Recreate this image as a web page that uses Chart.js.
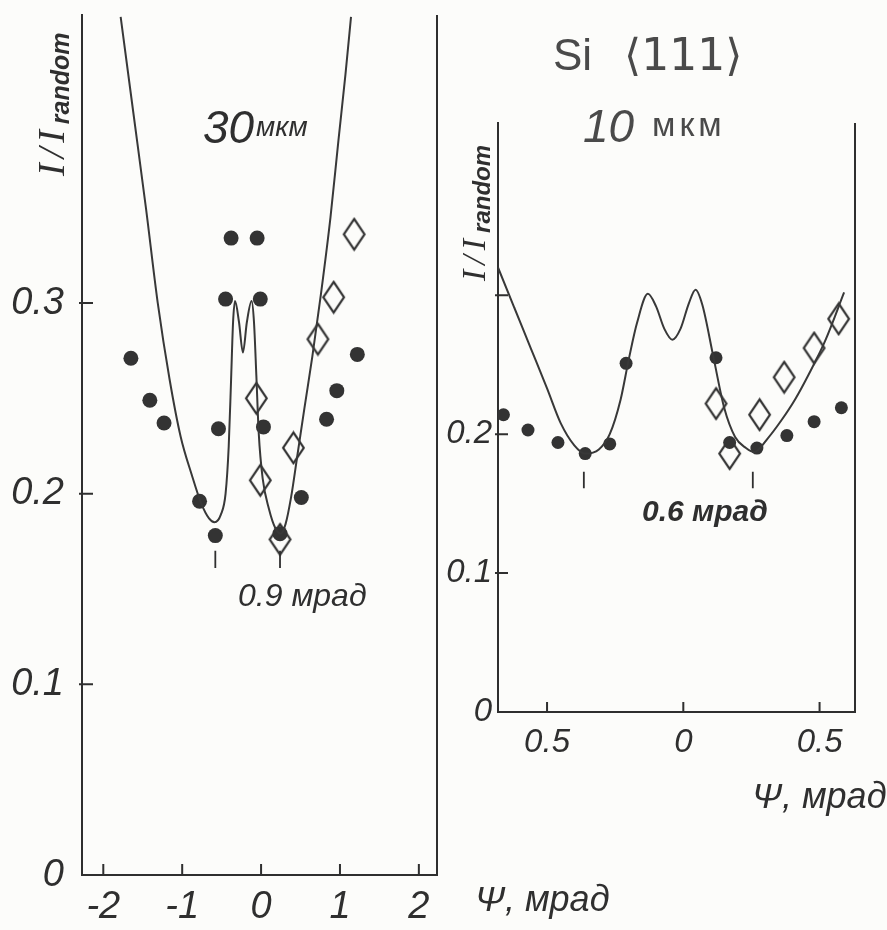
<!DOCTYPE html>
<html>
<head>
<meta charset="utf-8">
<script src="https://cdn.jsdelivr.net/npm/chart.js@4.4.0/dist/chart.umd.min.js"></script>
<style>
  body { margin: 0; background: #fcfcfa; }
  #wrap { position: relative; width: 887px; height: 930px; }
  canvas { position: absolute; left: 0; top: 0; }
</style>
</head>
<body>
<div id="wrap">
  <canvas id="left" width="887" height="930"></canvas>
  <canvas id="right" width="887" height="930"></canvas>
</div>
<script>
// ---- left panel (30 мкм) ----
const leftCurveX = [-1.78,-1.62,-1.46,-1.31,-1.16,-1.02,-0.88,-0.76,-0.66,-0.59,-0.51,-0.45,-0.41,-0.38,-0.355,-0.33,-0.28,-0.23,-0.18,-0.12,-0.09,-0.06,-0.03,0.02,0.10,0.18,0.25,0.31,0.38,0.46,0.55,0.65,0.76,0.88,0.98,1.07,1.14];
const leftCurveY = [0.450,0.400,0.350,0.300,0.260,0.230,0.210,0.195,0.187,0.185,0.189,0.200,0.225,0.260,0.290,0.301,0.290,0.274,0.290,0.301,0.290,0.262,0.232,0.208,0.192,0.182,0.179,0.184,0.198,0.220,0.245,0.272,0.305,0.345,0.385,0.420,0.450];
const leftDotX = [-1.65,-1.41,-1.23,-0.38,-0.05,-0.45,-0.01,-0.54,0.03,-0.78,-0.58,0.24,0.51,0.83,0.96,1.22];
const leftDotY = [0.271,0.249,0.237,0.334,0.334,0.302,0.302,0.234,0.235,0.196,0.178,0.179,0.198,0.239,0.254,0.273];
const leftDiamondX = [1.18,0.92,0.72,-0.06,0.41,-0.01,0.24];
const leftDiamondY = [0.336,0.303,0.281,0.250,0.224,0.207,0.176];
const leftMarkX = [-0.58, 0.24];
const leftMarkY = [0.170, 0.161];
const leftXTicks = [-2, -1, 0, 1, 2];
const leftYTicks = [0, 0.1, 0.2, 0.3];

// ---- right panel (10 мкм) ----
const rightCurveX = [-0.68,-0.62,-0.56,-0.50,-0.45,-0.40,-0.36,-0.31,-0.27,-0.23,-0.20,-0.17,-0.13,-0.10,-0.07,-0.04,-0.01,0.02,0.045,0.07,0.11,0.15,0.19,0.23,0.26,0.31,0.36,0.41,0.46,0.52,0.59];
const rightCurveY = [0.320,0.291,0.262,0.233,0.208,0.192,0.186,0.189,0.200,0.225,0.254,0.280,0.301,0.292,0.276,0.268,0.276,0.294,0.304,0.293,0.256,0.219,0.198,0.190,0.187,0.197,0.210,0.225,0.243,0.267,0.302];
const rightDotX = [-0.66,-0.57,-0.46,-0.36,-0.27,-0.21,0.12,0.17,0.27,0.38,0.48,0.58];
const rightDotY = [0.214,0.203,0.194,0.186,0.193,0.251,0.255,0.194,0.190,0.199,0.209,0.219];
const rightDiamondX = [0.12,0.17,0.28,0.37,0.48,0.57];
const rightDiamondY = [0.222,0.186,0.214,0.241,0.262,0.283];
const rightMarkX = [-0.365, 0.255];
const rightMarkY = [0.173, 0.161];
const rightXTicks = [-0.5, 0, 0.5];
const rightYTicks = [0, 0.1, 0.2, 0.3];

const ink = '#2f2f2f';
const FONT = "'Liberation Sans', 'DejaVu Sans', sans-serif";

const pts = (xs, ys) => xs.map((x, i) => ({x: x, y: ys[i]}));

function makeDiamond(w, h, lw) {
  const c = document.createElement('canvas');
  c.width = w; c.height = h;
  const g = c.getContext('2d');
  g.strokeStyle = ink; g.lineWidth = lw; g.lineJoin = 'miter';
  g.beginPath();
  g.moveTo(w / 2, lw); g.lineTo(w - lw, h / 2); g.lineTo(w / 2, h - lw); g.lineTo(lw, h / 2);
  g.closePath(); g.stroke();
  return c;
}
const diamond = makeDiamond(25, 35, 2.2);

function ratioLabel(ctx, x, y, big, small) {
  ctx.save();
  ctx.translate(x, y);
  ctx.rotate(-Math.PI / 2);
  ctx.fillStyle = ink;
  ctx.textAlign = 'left';
  ctx.textBaseline = 'alphabetic';
  ctx.font = 'italic ' + big + "px 'Liberation Serif', serif";
  ctx.letterSpacing = '5px';
  ctx.fillText('I/I', 0, 0);
  const w = ctx.measureText('I/I').width;
  ctx.letterSpacing = '0px';
  ctx.font = 'italic bold ' + small + 'px ' + FONT;
  ctx.fillText('random', w + 1, small * 0.2);
  ctx.restore();
}

// inward ticks, closing right line, free text
const extras = {
  id: 'extras',
  afterDraw(chart, args, opts) {
    const ctx = chart.ctx, a = chart.chartArea;
    const x = chart.scales.x, y = chart.scales.y;
    ctx.save();
    ctx.strokeStyle = ink;
    ctx.lineWidth = 2;
    ctx.beginPath();
    ctx.moveTo(a.right, a.top); ctx.lineTo(a.right, a.bottom + 1);
    y.ticks.forEach(t => {
      if (t.value === 0) return;
      const py = y.getPixelForValue(t.value);
      ctx.moveTo(a.left - 3, py); ctx.lineTo(a.left + opts.tick, py);
    });
    x.ticks.forEach(t => {
      const px = x.getPixelForValue(t.value);
      ctx.moveTo(px, a.bottom); ctx.lineTo(px, a.bottom - opts.tick);
    });
    ctx.stroke();
    opts.texts.forEach(t => {
      ctx.font = t.font;
      ctx.fillStyle = t.color || ink;
      ctx.textAlign = 'left';
      ctx.textBaseline = 'alphabetic';
      ctx.letterSpacing = (t.spacing || 0) + 'px';
      ctx.fillText(t.text, t.x, t.y);
    });
    ctx.letterSpacing = '0px';
    ctx.restore();
    ratioLabel(ctx, opts.label.x, opts.label.y, opts.label.big, opts.label.small);
  }
};

function panel(id, cfg) {
  const markSets = cfg.markX.map(mx => ({
    data: pts([mx, mx], cfg.markY),
    showLine: true, borderColor: ink, borderWidth: 1.8, pointRadius: 0
  }));
  return new Chart(document.getElementById(id), {
    type: 'scatter',
    data: {
      datasets: [
        { data: pts(cfg.curveX, cfg.curveY), showLine: true, borderColor: '#383838', borderWidth: 2,
          pointRadius: 0, cubicInterpolationMode: 'monotone' },
        { data: pts(cfg.dotX, cfg.dotY), pointStyle: 'circle', pointRadius: cfg.dot,
          backgroundColor: '#333', borderWidth: 0 },
        { data: pts(cfg.diaX, cfg.diaY), pointStyle: diamond, pointRadius: 12 }
      ].concat(markSets)
    },
    options: {
      responsive: false,
      animation: false,
      devicePixelRatio: 1,
      layout: { padding: cfg.padding },
      plugins: {
        legend: { display: false },
        tooltip: { enabled: false },
        extras: cfg.extras
      },
      scales: {
        x: {
          type: 'linear', min: cfg.xMin, max: cfg.xMax,
          afterBuildTicks: s => { s.ticks = cfg.xTicks.map(v => ({value: v})); },
          afterFit: s => { s.height = cfg.xH; s.paddingLeft = 0; s.paddingRight = 0; },
          grid: { display: false, drawTicks: false },
          border: { display: true, color: ink, width: 2 },
          ticks: {
            autoSkip: false, maxRotation: 0, padding: cfg.xPad, color: ink,
            font: { family: FONT, size: cfg.tickSize, style: 'italic' },
            callback: v => (v === 0 ? '0' : (cfg.absX ? String(Math.abs(v)) : String(v)))
          }
        },
        y: {
          type: 'linear', min: 0, max: cfg.yMax,
          afterBuildTicks: s => { s.ticks = cfg.yTicks.map(v => ({value: v})); },
          afterFit: s => { s.width = cfg.yW; s.paddingTop = 0; s.paddingBottom = 0; },
          grid: { display: false, drawTicks: false },
          border: { display: true, color: ink, width: 2 },
          ticks: {
            autoSkip: false, padding: cfg.yPad, color: ink,
            font: { family: FONT, size: cfg.tickSize, style: 'italic' },
            callback: v => (v === 0 ? '0' : (cfg.hideY.includes(v) ? '' : v.toFixed(1)))
          }
        }
      }
    },
    plugins: [extras]
  });
}

panel('left', {
  curveX: leftCurveX, curveY: leftCurveY, dotX: leftDotX, dotY: leftDotY,
  diaX: leftDiamondX, diaY: leftDiamondY, markX: leftMarkX, markY: leftMarkY,
  xTicks: leftXTicks, yTicks: leftYTicks, hideY: [],
  xMin: -2.27, xMax: 2.23, yMax: 0.451, absX: false,
  dot: 7.5, tickSize: 38, xPad: 10, yPad: 18, xH: 55, yW: 82,
  padding: { left: 0, top: 15, right: 450, bottom: 0 },
  extras: {
    tick: 11,
    label: { x: 64, y: 176, big: 38, small: 25 },
    texts: [
      { text: '30', font: 'italic 46px ' + FONT, x: 203, y: 143 },
      { text: 'мкм', font: 'italic 28px ' + FONT, x: 256, y: 136 },
      { text: '0.9 мрад', font: 'italic 32px ' + FONT, x: 238, y: 606 },
      { text: 'Ψ, мрад', font: 'italic 36px ' + FONT, x: 475, y: 911 }
    ]
  }
});

panel('right', {
  curveX: rightCurveX, curveY: rightCurveY, dotX: rightDotX, dotY: rightDotY,
  diaX: rightDiamondX, diaY: rightDiamondY, markX: rightMarkX, markY: rightMarkY,
  xTicks: rightXTicks, yTicks: rightYTicks, hideY: [0.3],
  xMin: -0.68, xMax: 0.63, yMax: 0.424, absX: true,
  dot: 6.5, tickSize: 33, xPad: 11, yPad: 6, xH: 60, yW: 60,
  padding: { left: 438, top: 123, right: 32, bottom: 158 },
  extras: {
    tick: 10,
    label: { x: 485, y: 281, big: 34, small: 24 },
    texts: [
      { text: 'Si', font: '44px ' + FONT, x: 553, y: 70, color: '#4a4a4a' },
      { text: '⟨111⟩', font: "44px 'DejaVu Sans', sans-serif", x: 624, y: 70, color: '#4a4a4a' },
      { text: '10', font: 'italic 46px ' + FONT, x: 583, y: 142, color: '#4a4a4a' },
      { text: 'мкм', font: '34px ' + FONT, x: 652, y: 136, color: '#4a4a4a', spacing: 4 },
      { text: '0.6 мрад', font: 'italic bold 30px ' + FONT, x: 642, y: 521 },
      { text: 'Ψ, мрад', font: 'italic 36px ' + FONT, x: 752, y: 808 }
    ]
  }
});
</script>
</body>
</html>
